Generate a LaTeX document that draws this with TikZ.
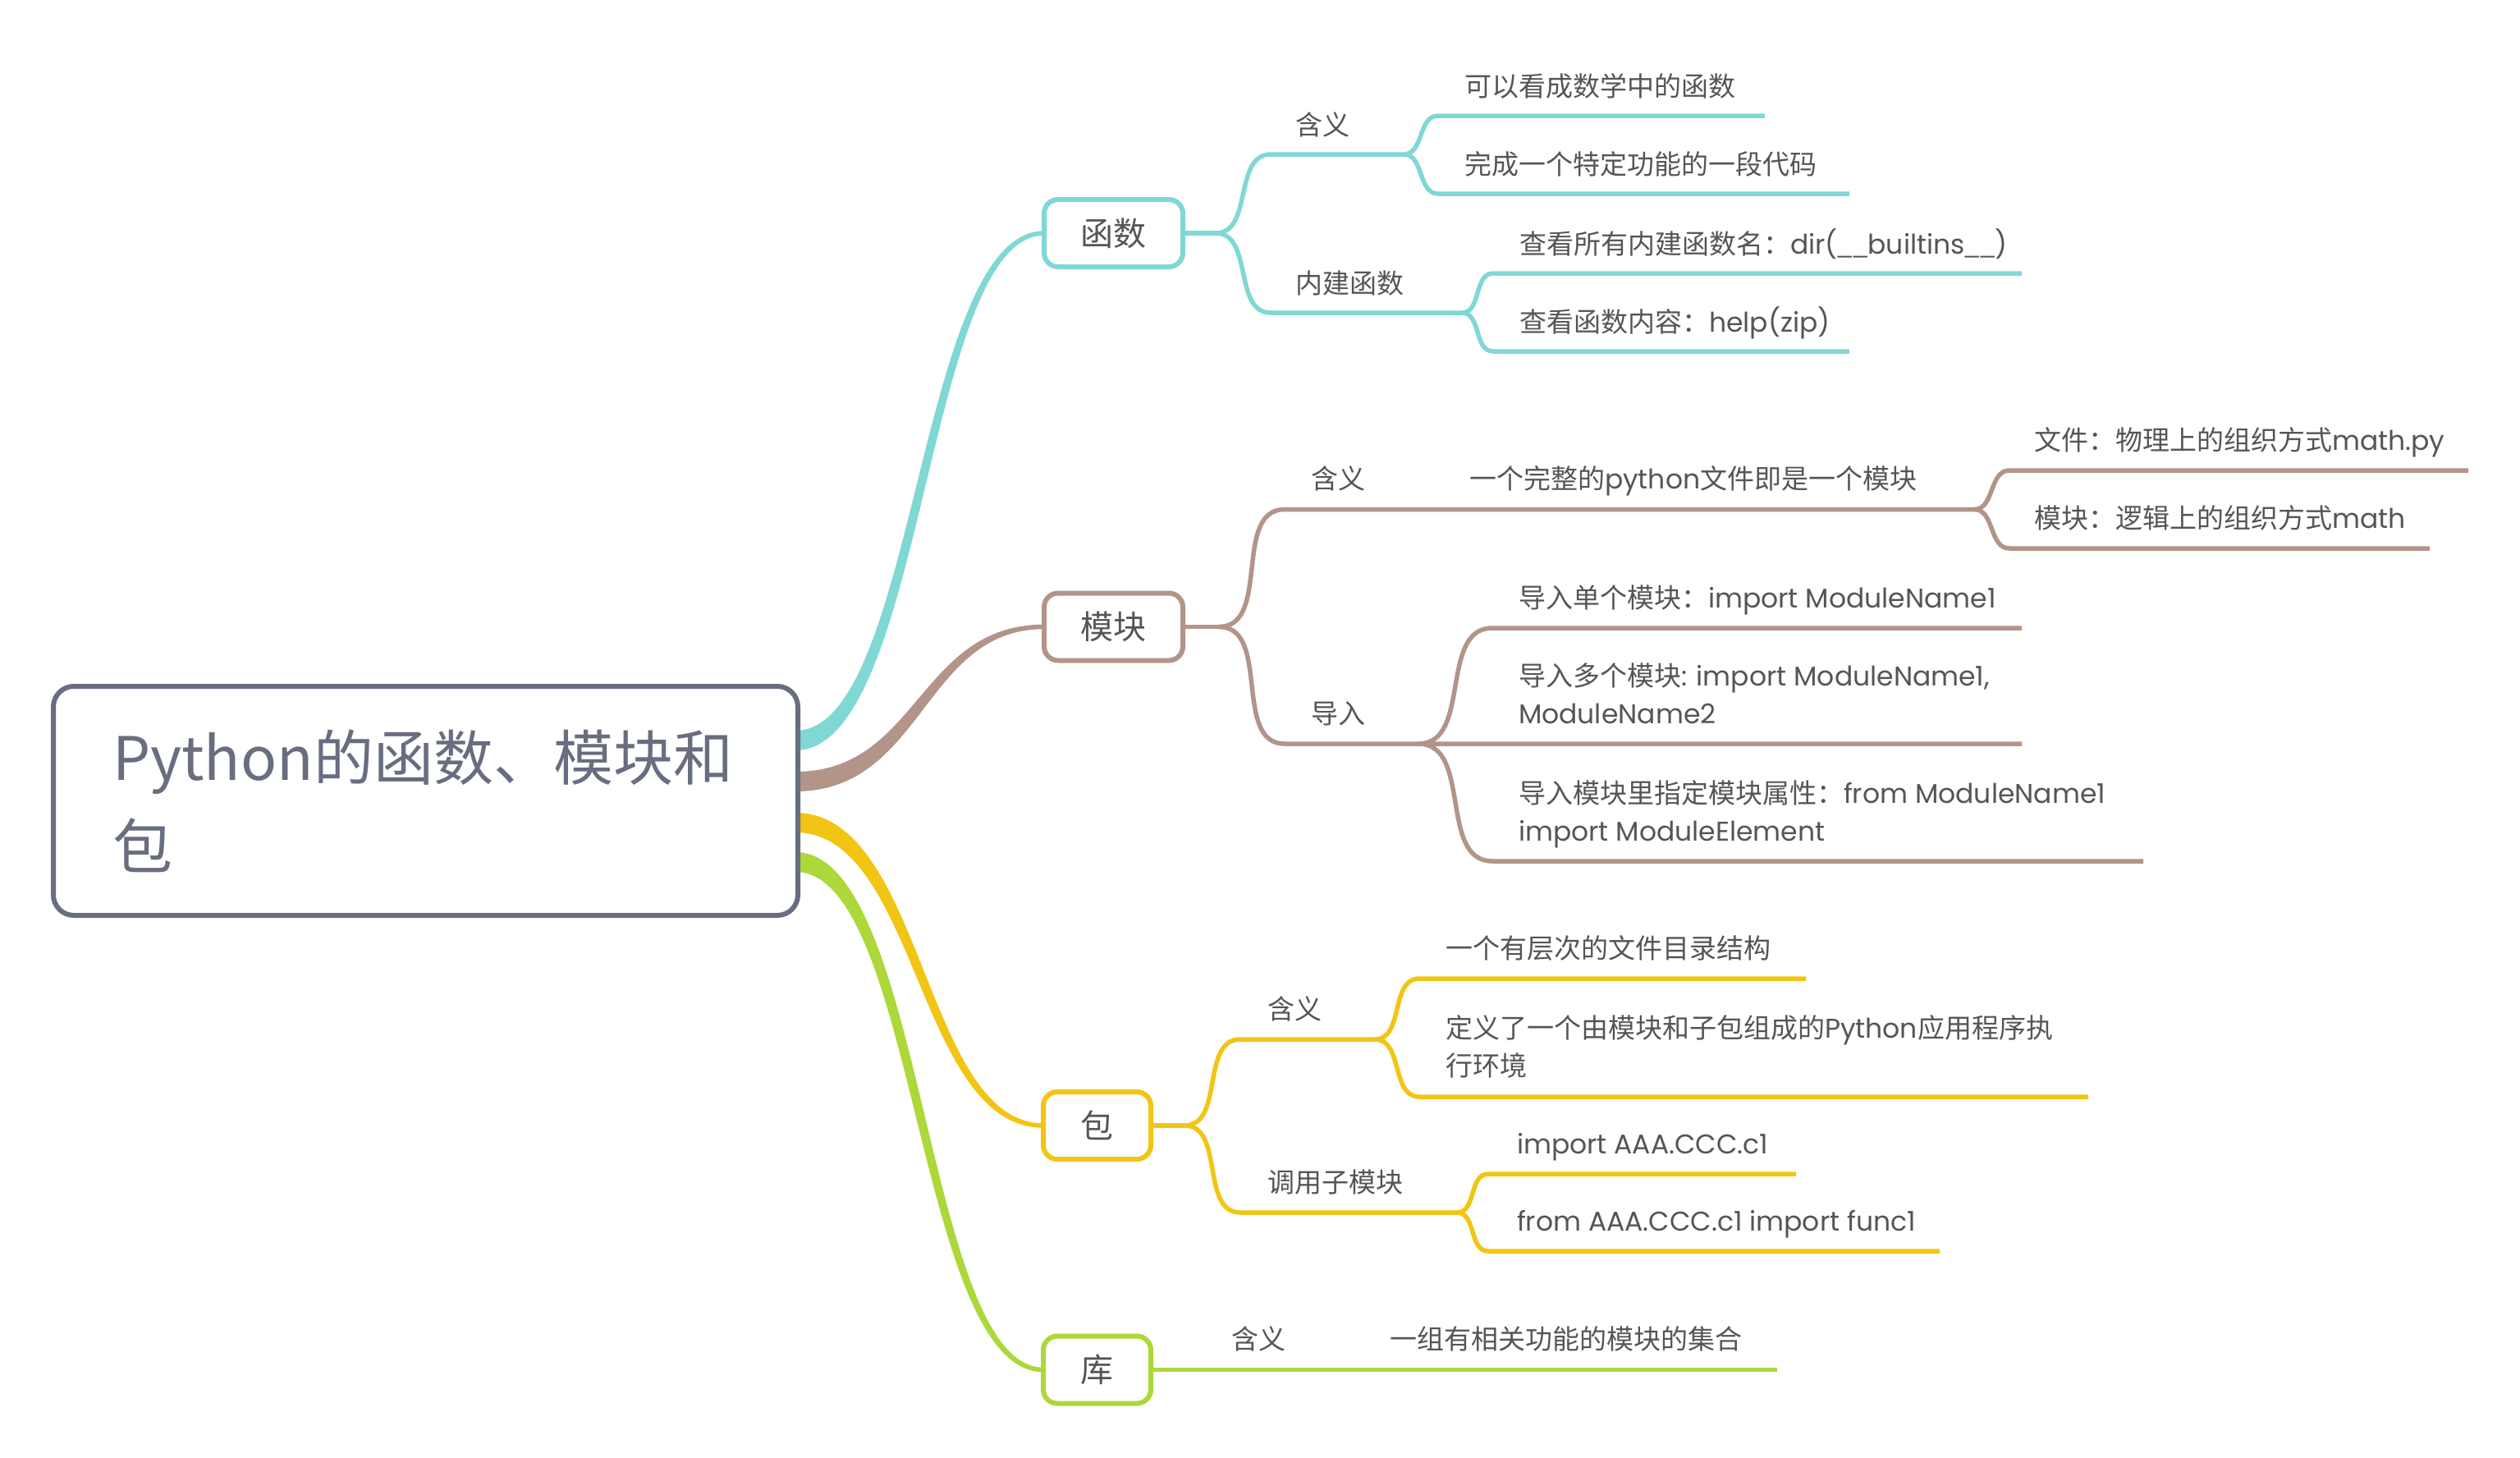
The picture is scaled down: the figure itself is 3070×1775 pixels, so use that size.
\documentclass[tikz,border=0pt]{standalone}
\usepackage{fontspec}
\setmainfont{Noto Sans CJK SC}
\newfontfamily\lat{Poppins}
\usetikzlibrary{calc,backgrounds}
\definecolor{cteal}{RGB}{128,216,212}
\definecolor{cbrown}{RGB}{179,148,137}
\definecolor{cyellow}{RGB}{242,197,20}
\definecolor{cgreen}{RGB}{172,216,58}
\definecolor{croot}{RGB}{104,109,128}
\definecolor{ctext}{RGB}{85,85,85}
\newcommand\twoline[2]{\begin{tabular}[t]{@{}l@{}}#1\\#2\end{tabular}}
\newcommand\rootlink[4]{%
 \fill[#1] let \p1=(root.east), \p2=(#2.west), \p3=($(\p1)!0.5!(\p2)$) in
 ({\x1-3pt},{\y1+#3+12pt}) .. controls ({\x3-(#4)},{\y1+#3+12pt}) and ({\x3-(#4)},{\y2+2.75pt}) .. (\x2,{\y2+2.75pt})
 -- (\x2,{\y2-2.75pt}) .. controls ({\x3+(#4)},{\y2-2.75pt}) and ({\x3+(#4)},{\y1+#3-12pt}) .. ({\x1-3pt},{\y1+#3-12pt}) -- cycle;}
\begin{document}
\begin{tikzpicture}[x=1pt,y=-1pt,
 mainnode/.style={draw=#1, line width=6pt, fill=white, rounded corners=17pt, minimum height=82pt, outer sep=0pt, text=ctext, font=\fontsize{40}{48}\selectfont, inner sep=0pt},
 lbl/.style={anchor=base west, inner sep=0pt, outer sep=0pt, text=ctext, font=\fontsize{33}{46}\selectfont},
 br/.style={draw=#1, line width=5.5pt, line join=round}]
\useasboundingbox (0,0) rectangle (3070,1775);

% nodes
\node[draw=croot, line width=6pt, fill=white, rounded corners=25pt, minimum width=907pt, minimum height=279pt, outer sep=0pt] (root) at (518.5,975.5) {};
\node[anchor=base west, inner sep=0pt, text=croot, font=\fontsize{73}{108}\selectfont] (title) at (137,950) {\twoline{Python的函数、模块和}{包}};

\node[mainnode=cteal, minimum width=169pt] (fn) at (1356.5,284) {函数};
\node[mainnode=cbrown, minimum width=169pt] (mod) at (1356.5,763.5) {模块};
\node[mainnode=cyellow, minimum width=131pt] (pkg) at (1336.5,1371) {包};
\node[mainnode=cgreen, minimum width=131pt] (lib) at (1336.5,1668.5) {库};

% coordinates
\coordinate (fnF) at (1481,284);
\coordinate (fnA) at (1548,188);
\coordinate (fnAF) at (1710,188);
\coordinate (fnA1) at (1752,141);
\coordinate (fnA2) at (1752,236);
\coordinate (fnB) at (1548,381);
\coordinate (fnBF) at (1781,381);
\coordinate (fnB1) at (1819,333);
\coordinate (fnB2) at (1819,428);

\coordinate (modF) at (1485,763.5);
\coordinate (modA) at (1565,620.5);
\coordinate (modAF) at (2405,620.5);
\coordinate (modA1) at (2448,573);
\coordinate (modA2) at (2448,668);
\coordinate (modB) at (1565,906);
\coordinate (modBF) at (1728,906);
\coordinate (modB1) at (1818,765);
\coordinate (modB3) at (1818,1049);

\coordinate (pkgF) at (1443,1371);
\coordinate (pkgA) at (1511,1266);
\coordinate (pkgAF) at (1675,1266);
\coordinate (pkgA1) at (1729,1192);
\coordinate (pkgA2) at (1729,1336);
\coordinate (pkgB) at (1511,1477);
\coordinate (pkgBF) at (1775,1477);
\coordinate (pkgB1) at (1813,1430);
\coordinate (pkgB2) at (1813,1524);

% labels
\node[lbl] (fnAl) at (1578,164) {含义};
\node[lbl] (fnA1l) at (1784,117) {可以看成数学中的函数};
\node[lbl] (fnA2l) at (1784,212) {完成一个特定功能的一段代码};
\node[lbl] (fnBl) at (1578,357) {内建函数};
\node[lbl] (fnB1l) at (1851,309) {查看所有内建函数名：{\lat dir(}\_\_{\lat builtins}\_\_{\lat )}};
\node[lbl] (fnB2l) at (1851,404) {查看函数内容：{\lat help(zip)}};

\node[lbl] (modAl) at (1597,595) {含义};
\node[lbl] (modAx) at (1790,595) {一个完整的{\lat python}文件即是一个模块};
\node[lbl] (modA1l) at (2478,548) {文件：物理上的组织方式{\lat math.py}};
\node[lbl] (modA2l) at (2478,643) {模块：逻辑上的组织方式{\lat math}};
\node[lbl] (modBl) at (1597,881) {导入};
\node[lbl] (modB1l) at (1850,740) {导入单个模块：{\lat import ModuleName1}};
\node[lbl] (modB2l) at (1850,835) {\twoline{导入多个模块{\lat: import ModuleName1,}}{\lat ModuleName2}};
\node[lbl] (modB3l) at (1850,978) {\twoline{导入模块里指定模块属性：{\lat from ModuleName1}}{\lat import ModuleElement}};

\node[lbl] (pkgAl) at (1544,1241) {含义};
\node[lbl] (pkgA1l) at (1761,1167) {一个有层次的文件目录结构};
\node[lbl] (pkgA2l) at (1761,1264) {\twoline{定义了一个由模块和子包组成的{\lat Python}应用程序执}{行环境}};
\node[lbl] (pkgBl) at (1544,1452) {调用子模块};
\node[lbl] (pkgB1l) at (1848,1405) {{\lat import AAA.CCC.c1}};
\node[lbl] (pkgB2l) at (1848,1499) {{\lat from AAA.CCC.c1 import func1}};

\node[lbl] (libAl) at (1500,1643) {含义};
\node[lbl] (libAx) at (1693,1643) {一组有相关功能的模块的集合};

\begin{scope}[on background layer]
\fill[white] (0,0) rectangle (3070,1775);
\rootlink{cteal}{fn}{73.5pt}{5pt}
\rootlink{cbrown}{mod}{23.5pt}{3pt}
\rootlink{cyellow}{pkg}{-26.5pt}{-4pt}
\rootlink{cgreen}{lib}{-74.5pt}{-5pt}

\draw[br=cteal] (fn.east) -- (fnF);
\draw[br=cteal] (fnF) to[out=0,in=180] (fnA) -- (fnAF);
\draw[br=cteal] (fnF) to[out=0,in=180] (fnB) -- (fnBF);
\draw[br=cteal] (fnAF) to[out=0,in=180] (fnA1) -- ++(398,0);
\draw[br=cteal] (fnAF) to[out=0,in=180] (fnA2) -- ++(501,0);
\draw[br=cteal] (fnBF) to[out=0,in=180] (fnB1) -- ++(644,0);
\draw[br=cteal] (fnBF) to[out=0,in=180] (fnB2) -- ++(434,0);

\draw[br=cbrown] (mod.east) -- (modF);
\draw[br=cbrown] (modF) to[out=0,in=180] (modA) -- (modAF);
\draw[br=cbrown] (modAF) to[out=0,in=180] (modA1) -- ++(559,0);
\draw[br=cbrown] (modAF) to[out=0,in=180] (modA2) -- ++(512,0);
\draw[br=cbrown] (modF) to[out=0,in=180] (modB) -- (modBF) -- ++(735,0);
\draw[br=cbrown] (modBF) to[out=0,in=180] (modB1) -- ++(645,0);
\draw[br=cbrown] (modBF) to[out=0,in=180] (modB3) -- ++(793,0);

\draw[br=cyellow] (pkg.east) -- (pkgF);
\draw[br=cyellow] (pkgF) to[out=0,in=180] (pkgA) -- (pkgAF);
\draw[br=cyellow] (pkgF) to[out=0,in=180] (pkgB) -- (pkgBF);
\draw[br=cyellow] (pkgAF) to[out=0,in=180] (pkgA1) -- ++(471,0);
\draw[br=cyellow] (pkgAF) to[out=0,in=180] (pkgA2) -- ++(815,0);
\draw[br=cyellow] (pkgBF) to[out=0,in=180] (pkgB1) -- ++(375,0);
\draw[br=cyellow] (pkgBF) to[out=0,in=180] (pkgB2) -- ++(550,0);

\draw[br=cgreen] (lib.east) -- ++(763,0);
\end{scope}
\end{tikzpicture}
\end{document}
